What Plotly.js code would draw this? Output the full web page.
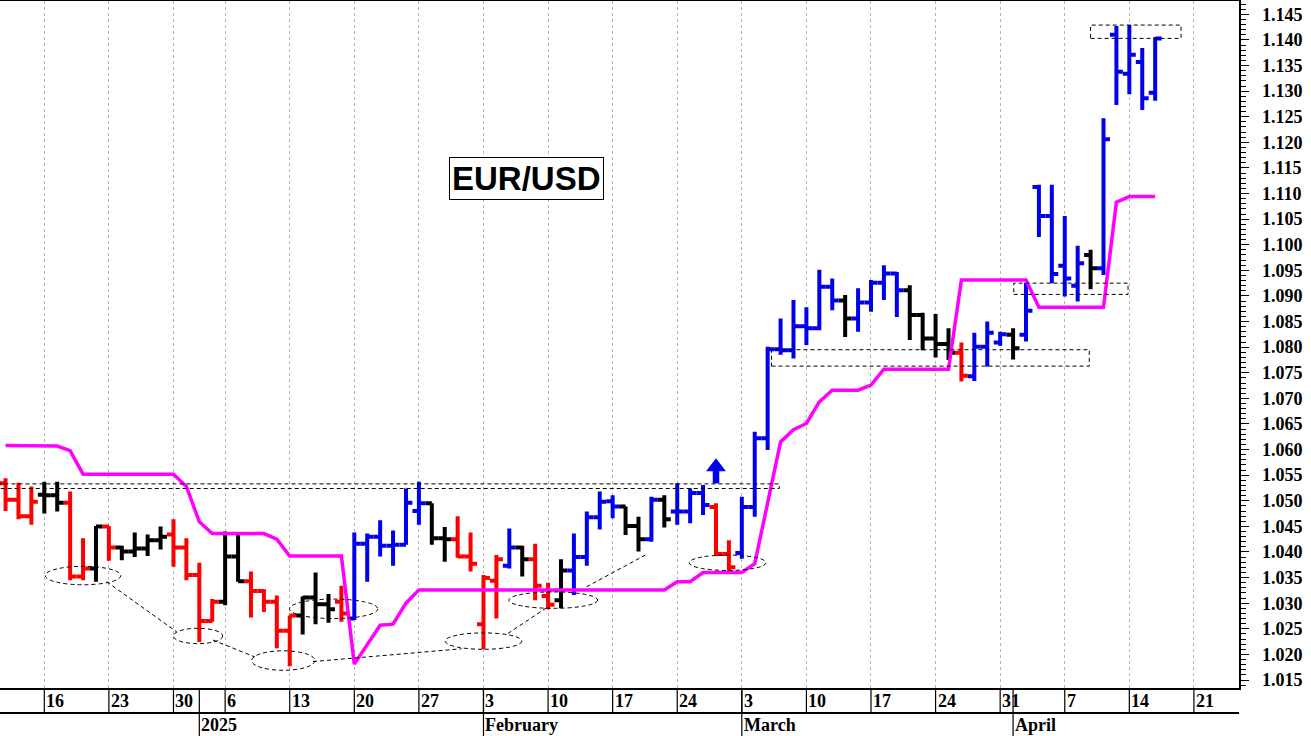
<!DOCTYPE html>
<html><head><meta charset="utf-8">
<script src="https://cdn.plot.ly/plotly-3.0.1.min.js"></script>
<style>html,body{margin:0;padding:0;background:#fff}#chart{width:1311px;height:736px}</style>
</head><body><div id="chart"></div>
<script>
// ---------- calendar (trading days) ----------
const calendarStart = '2024-12-11';
const calendarEnd = '2025-04-25';
const holidays = ['2025-01-01'];
const axisOrigin = '2024-12-16';
const firstBarDate = '2024-12-11';

// ---------- EUR/USD daily bars (Dec 11 2024 .. Apr 16 2025) ----------
const openP = [
 1.0534,1.0502,1.0470,1.0512,1.0511,1.0496,1.0352,1.0368,1.0450,1.0409,
 1.0401,1.0407,1.0423,1.0434,1.0409,1.0355,1.0265,1.0303,1.0391,1.0343,
 1.0324,1.0303,1.0246,1.0276,1.0311,1.0298,1.0303,1.0270,1.0416,1.0430,
 1.0412,1.0414,1.0480,1.0495,1.0427,1.0425,1.0391,1.0259,1.0344,1.0373,
 1.0409,1.0386,1.0314,1.0306,1.0364,1.0390,1.0468,1.0499,1.0489,1.0451,
 1.0425,1.0502,1.0479,1.0479,1.0515,1.0488,1.0396,1.0398,1.0488,1.0622,
 1.0796,1.0794,1.0841,1.0837,1.0918,1.0891,1.0856,1.0887,1.0926,1.0944,
 1.0911,1.0863,1.0817,1.0806,1.0789,1.0743,1.0801,1.0809,1.0824,1.0824,
 1.1113,1.1056,1.0959,1.0920,1.0980,1.0954,1.1410,1.1334,1.1357,1.1297];
const highP = [
 1.0544,1.0535,1.0528,1.0537,1.0537,1.0518,1.0427,1.0451,1.0451,1.0412,
 1.0438,1.0434,1.0450,1.0464,1.0427,1.0379,1.0308,1.0440,1.0433,1.0362,
 1.0327,1.0315,1.0276,1.0313,1.0360,1.0318,1.0334,1.0438,1.0436,1.0462,
 1.0442,1.0524,1.0537,1.0495,1.0449,1.0470,1.0438,1.0355,1.0394,1.0446,
 1.0412,1.0416,1.0340,1.0386,1.0436,1.0479,1.0518,1.0511,1.0489,1.0469,
 1.0508,1.0511,1.0534,1.0524,1.0531,1.0495,1.0423,1.0508,1.0635,1.0801,
 1.0856,1.0892,1.0878,1.0951,1.0934,1.0902,1.0915,1.0931,1.0960,1.0947,
 1.0921,1.0867,1.0865,1.0837,1.0809,1.0828,1.0850,1.0830,1.0837,1.0926,
 1.1117,1.1117,1.1056,1.0998,1.0990,1.1247,1.1427,1.1429,1.1384,1.1405];
const lowP = [
 1.0480,1.0464,1.0453,1.0475,1.0479,1.0345,1.0345,1.0342,1.0383,1.0384,
 1.0390,1.0392,1.0405,1.0371,1.0345,1.0224,1.0264,1.0296,1.0342,1.0272,
 1.0283,1.0212,1.0177,1.0239,1.0259,1.0262,1.0264,1.0267,1.0342,1.0391,
 1.0373,1.0414,1.0453,1.0414,1.0381,1.0389,1.0362,1.0210,1.0270,1.0368,
 1.0352,1.0306,1.0288,1.0290,1.0316,1.0373,1.0444,1.0466,1.0433,1.0401,
 1.0420,1.0448,1.0453,1.0456,1.0472,1.0394,1.0362,1.0387,1.0469,1.0599,
 1.0785,1.0778,1.0804,1.0833,1.0872,1.0820,1.0830,1.0869,1.0892,1.0859,
 1.0814,1.0794,1.0780,1.0775,1.0733,1.0734,1.0762,1.0803,1.0776,1.0811,
 1.1015,1.0925,1.0899,1.0889,1.0913,1.0941,1.1273,1.1294,1.1263,1.1281];
const closeP = [
 1.0502,1.0470,1.0498,1.0511,1.0496,1.0352,1.0368,1.0450,1.0409,1.0401,
 1.0407,1.0423,1.0430,1.0409,1.0355,1.0265,1.0303,1.0391,1.0343,1.0324,
 1.0303,1.0246,1.0276,1.0311,1.0298,1.0288,1.0280,1.0416,1.0430,1.0412,
 1.0414,1.0496,1.0495,1.0427,1.0425,1.0391,1.0377,1.0349,1.0386,1.0409,
 1.0386,1.0334,1.0297,1.0364,1.0390,1.0468,1.0498,1.0489,1.0451,1.0425,
 1.0502,1.0464,1.0479,1.0515,1.0492,1.0396,1.0370,1.0488,1.0622,1.0796,
 1.0794,1.0841,1.0837,1.0918,1.0891,1.0856,1.0887,1.0926,1.0944,1.0911,
 1.0863,1.0817,1.0806,1.0789,1.0744,1.0801,1.0828,1.0825,1.0798,1.0871,
 1.1056,1.0943,1.0934,1.0964,1.0954,1.1206,1.1338,1.1371,1.1286,1.1403];
// bar state: r = bearish (red), k = neutral (black), b = bullish (blue)
const barState = [
 'r','r','r','k','k','r','r','k','r','k',
 'k','k','k','r','r','r','r','k','k','r',
 'r','r','r','k','k','k','r','b','b','b',
 'b','b','b','k','k','r','r','r','r','b',
 'k','r','r','k','b','b','b','b','k','k',
 'b','k','b','b','b','r','r','b','b','b',
 'b','b','b','b','b','k','b','b','b','b',
 'k','k','k','k','r','b','b','b','k','b',
 'b','b','b','b','k','b','b','b','b','b'];
// magenta trailing line
const stopLine = [
 1.0608,1.0608,1.0608,1.0608,1.0607,1.0598,1.0552,1.0552,1.0552,1.0552,
 1.0552,1.0552,1.0552,1.0552,1.0528,1.0459,1.0436,1.0436,1.0436,1.0436,
 1.0436,1.0425,1.0392,1.0392,1.0392,1.0392,1.0392,1.0181,1.0219,1.0257,
 1.0259,1.0300,1.0326,1.0326,1.0326,1.0326,1.0326,1.0326,1.0326,1.0326,
 1.0326,1.0326,1.0326,1.0326,1.0326,1.0326,1.0326,1.0326,1.0326,1.0326,
 1.0326,1.0326,1.0342,1.0342,1.0360,1.0360,1.0360,1.0360,1.0377,1.0497,
 1.0615,1.0639,1.0651,1.0693,1.0716,1.0716,1.0716,1.0726,1.0757,1.0757,
 1.0757,1.0757,1.0757,1.0757,1.0931,1.0931,1.0931,1.0931,1.0931,1.0931,
 1.0878,1.0878,1.0878,1.0878,1.0878,1.0878,1.1083,1.1094,1.1094,1.1094];

// ---------- axis labels ----------
const weekTickDates = ['2024-12-16','2024-12-23','2024-12-30','2025-01-06','2025-01-13','2025-01-20','2025-01-27',
 '2025-02-03','2025-02-10','2025-02-17','2025-02-24','2025-03-03','2025-03-10','2025-03-17','2025-03-24',
 '2025-03-31','2025-04-07','2025-04-14','2025-04-21'];
const weekTickLabels = ['16','23','30','6','13','20','27','3','10','17','24','3','10','17','24','31','7','14','21'];
const monthDates = ['2025-01-02','2025-02-03','2025-03-03','2025-04-01'];
const monthLabels = ['2025','February','March','April'];

// ---------- chart annotations (bar-index units from Dec 16, price) ----------
const ellipses = [
 [0.07,5.93,1.0336,1.0372],[9.99,13.81,1.0221,1.0251],[16.05,20.95,1.0169,1.0207],
 [18.98,25.82,1.0270,1.0308],[31.03,36.97,1.0210,1.0242],[35.96,42.84,1.0290,1.0322],
 [49.93,55.87,1.0364,1.0394]];
const boxes = [[-5,56.9,1.0524,1.0533],[56.3,80.9,1.0763,1.0795],[75.05,83.9,1.0903,1.0925],[81.0,88.0,1.1403,1.1429]];
const trendLines = [[4.83,1.0342,10.25,1.0244],[13.06,1.0228,16.31,1.0195],[20.8,1.0186,32.3,1.0211],
 [35.9,1.0241,39.0,1.0293],[41.98,1.0332,46.75,1.0397]];
const arrowX = 52, arrowTip = 1.0583, arrowBase = 1.0534;
const titleText = 'EUR/USD';

// ---------- build ----------
function isoDay(d){return d.toISOString().slice(0,10);}
const calendar = [];
for (let d = new Date(calendarStart+'T00:00:00Z'); isoDay(d) <= calendarEnd; d.setUTCDate(d.getUTCDate()+1)) {
  const wd = d.getUTCDay();
  if (wd===0 || wd===6) continue;
  const s = isoDay(d);
  if (holidays.includes(s)) continue;
  calendar.push(s);
}
const originIdx = calendar.indexOf(axisOrigin);
const pos = s => calendar.indexOf(s) - originIdx;
const firstIdx = pos(firstBarDate);
const barX = openP.map((_, i) => firstIdx + i);

const X_RANGE = [-3.43, 92.49];
const Y_RANGE = [1.01344, 1.1476];
const PLOT_H = 687;
const pxY = (Y_RANGE[1]-Y_RANGE[0]) / PLOT_H;

const stateColors = {r:'#ff0000', k:'#000000', b:'#0000ee'};
const traces = [];
Object.keys(stateColors).forEach(st => {
  const m = (arr) => arr.map((v,i) => barState[i]===st ? v : null);
  traces.push({
    type:'ohlc', x: barX, open: m(openP), high: m(highP), low: m(lowP), close: m(closeP),
    tickwidth: 0.5, hoverinfo:'skip', showlegend:false,
    increasing:{line:{color:stateColors[st], width:4}},
    decreasing:{line:{color:stateColors[st], width:4}}
  });
});
traces.push({type:'scatter', mode:'lines', x: barX, y: stopLine, line:{color:'#ff00ff', width:3.5},
  hoverinfo:'skip', showlegend:false});
// up arrow: stem + triangle head
const headH = 13 * pxY;
traces.push({type:'scatter', mode:'lines', x:[arrowX, arrowX], y:[arrowBase, arrowTip - headH + 0.5*pxY],
  line:{color:'#0000ee', width:6.5}, hoverinfo:'skip', showlegend:false});
traces.push({type:'scatter', mode:'markers', x:[arrowX], y:[arrowTip - 8.65*pxY],
  marker:{symbol:'triangle-up', size:17.3, color:'#0000ee', line:{width:0}}, hoverinfo:'skip', showlegend:false});

const dashPat = '4px,3px';
const shapes = [];
ellipses.forEach(e => shapes.push({type:'circle', xref:'x', yref:'y', x0:e[0], x1:e[1], y0:e[2], y1:e[3],
  line:{color:'#000', width:1, dash:dashPat}}));
boxes.forEach(b => shapes.push({type:'rect', xref:'x', yref:'y', x0:b[0], x1:b[1], y0:b[2], y1:b[3],
  line:{color:'#000', width:1, dash:dashPat}}));
trendLines.forEach(l => shapes.push({type:'line', xref:'x', yref:'y', x0:l[0], y0:l[1], x1:l[2], y1:l[3],
  line:{color:'#000', width:1, dash:dashPat}}));

// date band below the plot
const row1Bottom = -25/PLOT_H, rowsBottom = -50/PLOT_H;
shapes.push({type:'line', xref:'paper', yref:'paper', x0:0, x1:1, y0:row1Bottom, y1:row1Bottom,
  line:{color:'#000', width:2}});
weekTickDates.forEach(d => shapes.push({type:'line', xref:'x', yref:'paper', x0:pos(d), x1:pos(d),
  y0:0, y1:row1Bottom, line:{color:'#000', width:1.2}}));
monthDates.forEach(d => shapes.push({type:'line', xref:'x', yref:'paper', x0:pos(d), x1:pos(d),
  y0:0, y1:rowsBottom, line:{color:'#000', width:1.2}}));

const labFont = {family:'Liberation Serif, Times New Roman, serif', size:18, weight:'bold', color:'#000'};
const annotations = [];
weekTickDates.forEach((d,i) => annotations.push({xref:'x', yref:'paper', x:pos(d), y:-12.5/PLOT_H,
  xanchor:'left', yanchor:'middle', xshift:0, text:weekTickLabels[i], showarrow:false, font:labFont}));
monthDates.forEach((d,i) => annotations.push({xref:'x', yref:'paper', x:pos(d), y:-37/PLOT_H,
  xanchor:'left', yanchor:'middle', xshift:0, text:monthLabels[i], showarrow:false, font:labFont}));
annotations.push({xref:'paper', yref:'paper', x:526/1239, y:(688-178)/PLOT_H, xanchor:'center', yanchor:'middle',
  text:titleText, showarrow:false, bordercolor:'#000', borderwidth:1, borderpad:2, bgcolor:'#fff',
  font:{family:'Liberation Sans, Arial, sans-serif', size:33, weight:'bold', color:'#000'}});

const layout = {
  width:1311, height:736, margin:{l:0, r:72, t:1, b:48},
  paper_bgcolor:'#fff', plot_bgcolor:'#fff', showlegend:false,
  xaxis:{type:'linear', range:X_RANGE, tickmode:'array', tickvals: weekTickDates.map(pos),
    showticklabels:false, ticks:'', showgrid:true, gridcolor:'#b4b4b4', griddash:'3px,3px', gridwidth:1,
    showline:true, linecolor:'#000', linewidth:1.5, mirror:true, zeroline:false, rangeslider:{visible:false},
    fixedrange:true},
  yaxis:{side:'right', range:Y_RANGE, tickmode:'linear', tick0:1.015, dtick:0.005, tickformat:'.3f',
    ticks:'outside', ticklen:8, tickwidth:1, tickcolor:'#000', showgrid:false, zeroline:false,
    showline:true, linecolor:'#000', linewidth:1.5, mirror:false, ticklabelstandoff:10,
    tickfont:labFont,
    minor:{dtick:0.001, tick0:1.015, ticks:'outside', ticklen:5, tickwidth:1, tickcolor:'#000', showgrid:false},
    fixedrange:true},
  shapes: shapes,
  annotations: annotations
};
Plotly.newPlot('chart', traces, layout, {displayModeBar:false, staticPlot:true});
</script>
</body></html>
